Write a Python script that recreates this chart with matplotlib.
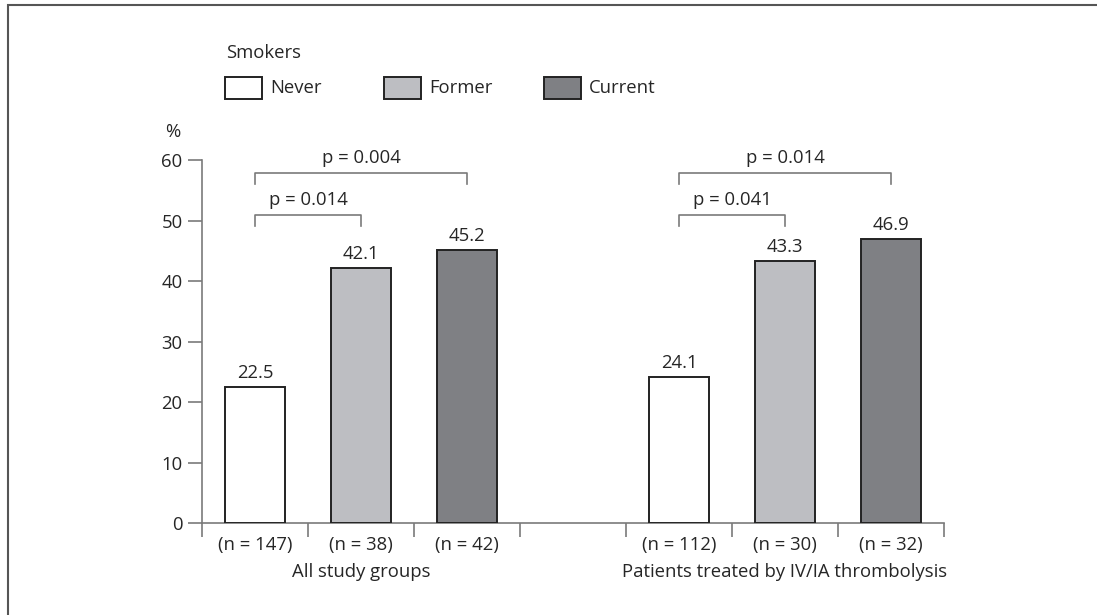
import matplotlib.pyplot as plt
from matplotlib.patches import Rectangle

plt.rcParams['font.family'] = ['Open Sans', 'DejaVu Sans']

# data
groups = ["All study groups", "Patients treated by IV/IA thrombolysis"]
smokers = ["Never", "Former", "Current"]
values = [[22.5, 42.1, 45.2], [24.1, 43.3, 46.9]]
n_labels = [["(n = 147)", "(n = 38)", "(n = 42)"], ["(n = 112)", "(n = 30)", "(n = 32)"]]
# (from, to, label) per group
pvals = [[(0, 1, "p = 0.014"), (0, 2, "p = 0.004")],
         [(0, 1, "p = 0.041"), (0, 2, "p = 0.014")]]
colors = ["#ffffff", "#bdbec2", "#7f8084"]

txt = "#262626"
axc = "#7a7a7a"
fs = 13.3

fig = plt.figure(figsize=(10.97, 6.15), dpi=100)
ax = fig.add_axes([0.1841, 0.1496, 0.8605 - 0.1841, 0.7398 - 0.1496])

for gi, g in enumerate(groups):
    start = gi * 4
    for i, v in enumerate(values[gi]):
        x = start + i + 0.5
        ax.bar(x, v, width=0.56, color=colors[i], edgecolor="#222222", linewidth=1.4, zorder=3)
        ax.text(x, v + 2.3, "%.1f" % v, ha="center", va="center", fontsize=fs, color=txt)
        ax.text(x, -3.6, n_labels[gi][i], ha="center", va="center", fontsize=fs, color=txt)
    ax.text(start + 1.5, -8.1, g, ha="center", va="center", fontsize=fs, color=txt)
    levels = [(49.1, 50.9), (56.0, 57.9)]
    for (a, b, lab), (lo, hi) in zip(pvals[gi], levels):
        xa = start + a + 0.5
        xb = start + b + 0.5
        ax.plot([xa, xa, xb, xb], [lo, hi, hi, lo], color=axc, linewidth=1.2, clip_on=False)
        ax.text((xa + xb) / 2, hi + 2.5, lab, ha="center", va="center", fontsize=fs, color=txt)

ax.set_xlim(0, 7)
ax.set_ylim(0, 60)
ax.set_xticks(range(8))
ax.set_xticklabels([])
ax.set_yticks(range(0, 61, 10))
ax.spines['top'].set_visible(False)
ax.spines['right'].set_visible(False)
for s in ['left', 'bottom']:
    ax.spines[s].set_color(axc)
    ax.spines[s].set_linewidth(1.2)
ax.tick_params(axis='y', direction='out', length=10, width=1.2, color=axc, labelsize=fs, labelcolor=txt, pad=4)
ax.tick_params(axis='x', direction='out', length=10, width=1.2, color=axc)
ax.text(-0.28, 64.6, "%", ha="center", va="center", fontsize=fs, color=txt)

# legend
fig.text(226 / 1097, 1 - 53 / 615, "Smokers", ha="left", va="center", fontsize=fs, color=txt)
box_x = [225, 384, 544]
for i, s in enumerate(smokers):
    fig.patches.append(Rectangle((box_x[i] / 1097, 1 - 99 / 615), 37 / 1097, 22 / 615,
                                 transform=fig.transFigure, facecolor=colors[i],
                                 edgecolor="#222222", linewidth=1.4))
    fig.text((box_x[i] + 45) / 1097, 1 - 88 / 615, s, ha="left", va="center", fontsize=fs, color=txt)

# frame around figure
fig.patches.append(Rectangle((8 / 1097, -0.05), 1.1, 1 - 5 / 615 + 0.05, transform=fig.transFigure,
                             fill=False, edgecolor="#555555", linewidth=1.5))

fig.savefig("out.png", dpi=100)
